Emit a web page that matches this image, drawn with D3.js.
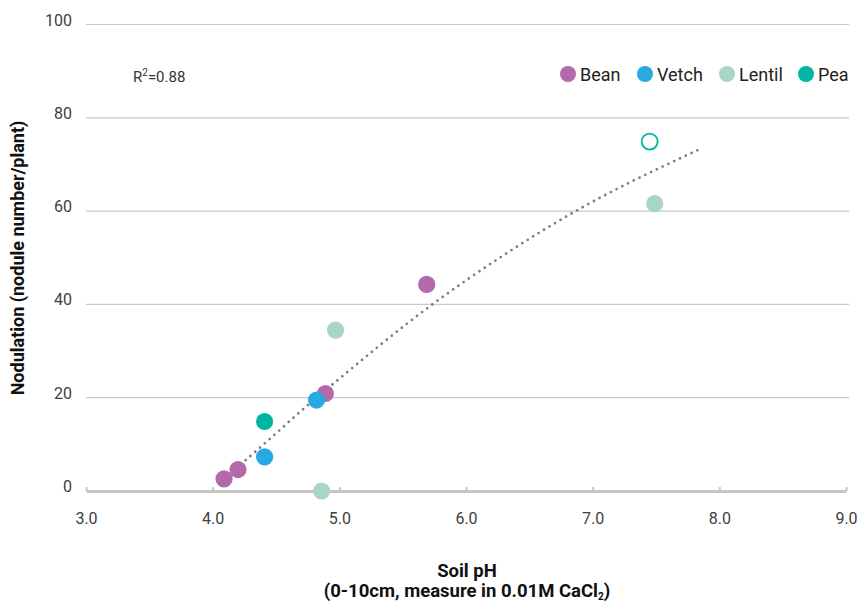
<!DOCTYPE html>
<html>
<head>
<meta charset="utf-8">
<script src="https://cdn.jsdelivr.net/npm/d3@7"></script>
<style>
  body { margin: 0; background: #fff; }
  svg { font-family: Roboto, "Open Sans", sans-serif; }
</style>
</head>
<body>
<div id="chart"></div>
<script>
// data
const beanPH = [4.09, 4.20, 4.89, 5.69];
const beanNod = [2.6, 4.6, 20.9, 44.3];
const vetchPH = [4.41, 4.82];
const vetchNod = [7.3, 19.5];
const lentilPH = [4.86, 4.97, 7.49];
const lentilNod = [0, 34.5, 61.6];
const peaPH = [4.41];
const peaNod = [14.9];
const peaOpenPH = [7.45];   // hollow marker
const peaOpenNod = [74.9];

// dotted trend curve
const trendPH = [4.26, 4.44, 4.73, 4.94, 5.72, 6.30, 6.86, 7.84];
const trendNod = [6.6, 10.9, 17.9, 22.7, 39.7, 50.6, 59.9, 73.2];

const xTicks = [3, 4, 5, 6, 7, 8, 9];
const yTicks = [0, 20, 40, 60, 80, 100];

const seriesNames = ["Bean", "Vetch", "Lentil", "Pea"];
const seriesColors = ["#b469ab", "#27aae1", "#a9d5c9", "#00b6a2"];

const width = 857, height = 605;

const svg = d3.select("#chart")
    .append("svg")
    .attr("width", width)
    .attr("height", height);

const x = d3.scaleLinear().domain([3, 9]).range([86, 846]);
const y = d3.scaleLinear().domain([0, 100]).range([491, 24.5]);

const color = d3.scaleOrdinal().domain(seriesNames).range(seriesColors);

// horizontal grid lines
svg.append("g")
    .selectAll("line")
    .data(yTicks.filter(d => d > 0))
    .join("line")
    .attr("x1", x(3))
    .attr("x2", 849)
    .attr("y1", d => y(d))
    .attr("y2", d => y(d))
    .style("stroke", "#c9c9c9")
    .style("stroke-width", 1.2)

// y tick labels
svg.append("g")
    .selectAll("text")
    .data(yTicks)
    .join("text")
    .attr("x", 72)
    .attr("y", d => y(d) + 1)
    .attr("text-anchor", "end")
    .style("font-size", "16px")
    .style("fill", "#404040")
    .text(d => d)

// x axis: thick grey line with small upward ticks
const xAxis = d3.axisBottom(x)
    .tickValues(xTicks)
    .tickSizeInner(-4)
    .tickSizeOuter(0)
    .tickPadding(22)
    .tickFormat(d3.format(".1f"));

const gx = svg.append("g")
    .attr("transform", "translate(0," + y(0) + ")")
    .call(xAxis);

gx.select(".domain")
    .style("stroke", "#c6c6c6")
    .style("stroke-width", 3)
gx.selectAll(".tick line")
    .style("stroke", "#c6c6c6")
    .style("stroke-width", 2)
gx.selectAll(".tick text")
    .style("font-size", "16px")
    .style("font-family", "Roboto, sans-serif")
    .style("fill", "#404040")

// trend line (dotted)
const trend = trendPH.map((d, i) => [d, trendNod[i]]);
svg.append("path")
    .datum(trend)
    .attr("d", d3.line()
        .x(d => x(d[0]))
        .y(d => y(d[1]))
        .curve(d3.curveMonotoneX))
    .style("fill", "none")
    .style("stroke", "#7f7f7f")
    .style("stroke-width", 2.8)
    .style("stroke-linecap", "round")
    .style("stroke-dasharray", "0 6.4")

// markers
const points = [];
beanPH.forEach((d, i) => points.push({ s: "Bean", ph: d, nod: beanNod[i] }));
vetchPH.forEach((d, i) => points.push({ s: "Vetch", ph: d, nod: vetchNod[i] }));
lentilPH.forEach((d, i) => points.push({ s: "Lentil", ph: d, nod: lentilNod[i] }));
peaPH.forEach((d, i) => points.push({ s: "Pea", ph: d, nod: peaNod[i] }));

svg.append("g")
    .selectAll("circle")
    .data(points)
    .join("circle")
    .attr("cx", d => x(d.ph))
    .attr("cy", d => y(d.nod))
    .attr("r", 8.6)
    .style("fill", d => color(d.s))

svg.append("g")
    .selectAll("circle")
    .data(peaOpenPH.map((d, i) => ({ ph: d, nod: peaOpenNod[i] })))
    .join("circle")
    .attr("cx", d => x(d.ph))
    .attr("cy", d => y(d.nod))
    .attr("r", 8)
    .style("fill", "#fff")
    .style("stroke", color("Pea"))
    .style("stroke-width", 1.8)

// R squared
const r2 = svg.append("text")
    .attr("x", 133)
    .attr("y", 82)
    .style("font-size", "15px")
    .style("fill", "#333")
r2.append("tspan").text("R")
r2.append("tspan").attr("dy", -6).style("font-size", "10px").text("2")
r2.append("tspan").attr("dy", 6).text("=0.88")

// legend
const legendX = [568, 645, 727, 806];
const legend = svg.append("g")
    .selectAll("g")
    .data(seriesNames)
    .join("g")
    .attr("transform", (d, i) => "translate(" + legendX[i] + ",74)")

legend.append("circle")
    .attr("r", 8)
    .style("fill", d => color(d))

legend.append("text")
    .attr("x", 12)
    .attr("y", 7)
    .style("font-size", "18px")
    .style("fill", "#222")
    .text(d => d)

// axis titles
svg.append("text")
    .attr("transform", "translate(24,258) rotate(-90)")
    .attr("text-anchor", "middle")
    .style("font-size", "18px")
    .style("font-weight", "bold")
    .style("fill", "#111")
    .text("Nodulation (nodule number/plant)")

svg.append("text")
    .attr("x", 467)
    .attr("y", 577)
    .attr("text-anchor", "middle")
    .style("font-size", "18.5px")
    .style("font-weight", "bold")
    .style("fill", "#111")
    .text("Soil pH")

const xt2 = svg.append("text")
    .attr("x", 467)
    .attr("y", 597)
    .attr("text-anchor", "middle")
    .style("font-size", "18.5px")
    .style("font-weight", "bold")
    .style("fill", "#111")
xt2.append("tspan").text("(0-10cm, measure in 0.01M CaCl")
xt2.append("tspan").attr("dy", 3).style("font-size", "10px").text("2")
xt2.append("tspan").attr("dy", -3).text(")")
</script>
</body>
</html>
